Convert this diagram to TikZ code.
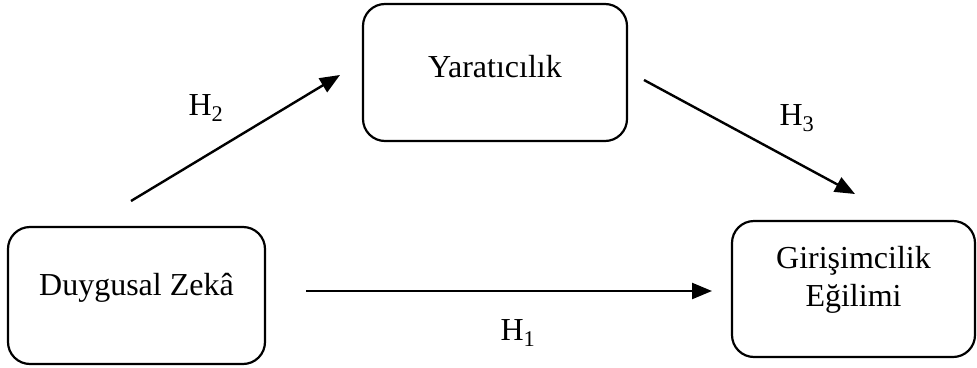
\documentclass[tikz,border=0pt]{standalone}
\usepackage{fontspec}
\setmainfont{Liberation Serif}
\usetikzlibrary{arrows.meta}
\begin{document}
\begin{tikzpicture}[x=1pt,y=-1pt,
  box/.style={draw,line width=2.2pt,rounded corners=22pt,inner sep=0pt},
  txt/.style={font=\fontsize{32}{38}\selectfont,align=center,inner sep=0pt},
  hlab/.style={font=\fontsize{32}{38}\selectfont,inner sep=0pt},
  arr/.style={line width=2.4pt,-{Triangle[length=20pt,width=16pt]}}]
\useasboundingbox (0,0) rectangle (977,367);
\node[box,minimum width=264pt,minimum height=137pt] (yar) at (495,72.5) {};
\node[box,minimum width=257pt,minimum height=137pt] (duy) at (136.5,295.5) {};
\node[box,minimum width=243pt,minimum height=136pt] (gir) at (853.5,289) {};
\node[txt] (yart) at (495,67) {Yaratıcılık};
\node[txt] (duyt) at (136.5,288) {Duygusal Zekâ};
\node[txt] (girt) at (853.5,280) {Girişimcilik\\Eğilimi};
\coordinate (a1) at (131,201);
\coordinate (a2) at (340,75);
\coordinate (b1) at (644,80);
\coordinate (b2) at (855,194);
\coordinate (c1) at (306,291);
\coordinate (c2) at (712,291);
\draw[arr] (a1) -- (a2);
\draw[arr] (b1) -- (b2);
\draw[arr] (c1) -- (c2);
\node[hlab] (h2) at (206,108) {H\textsubscript{2}};
\node[hlab] (h3) at (797,118) {H\textsubscript{3}};
\node[hlab] (h1) at (518,333) {H\textsubscript{1}};
\end{tikzpicture}
\end{document}
